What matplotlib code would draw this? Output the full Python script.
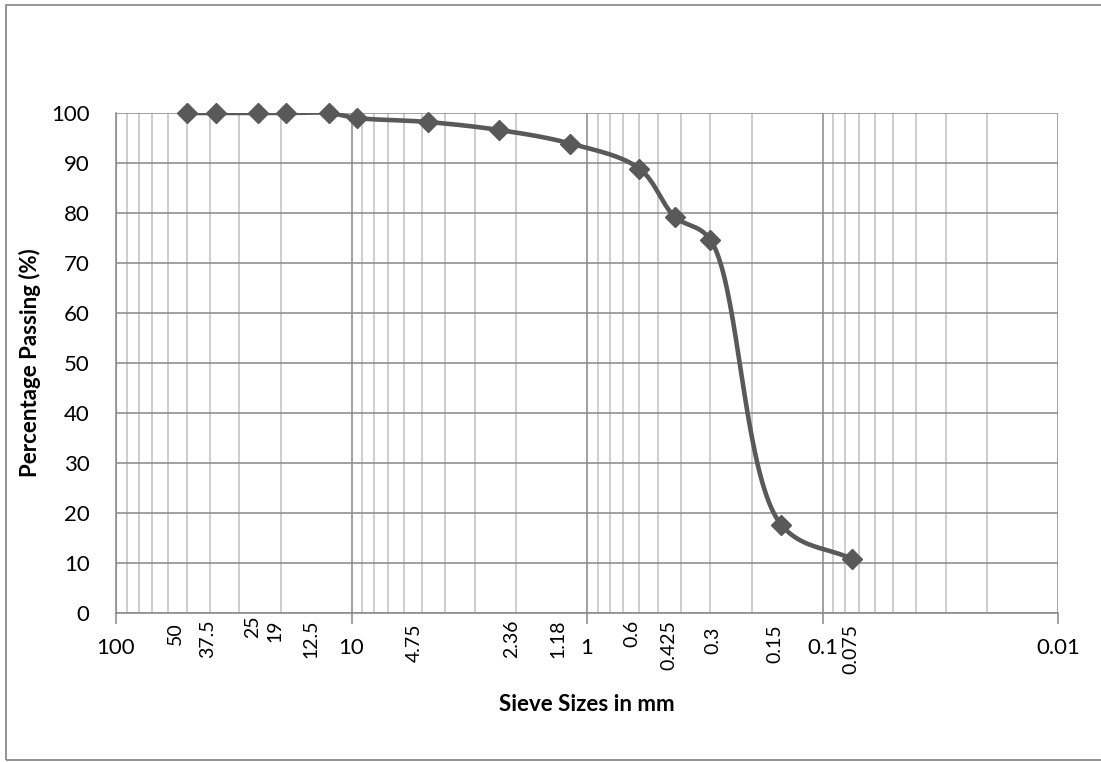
import numpy as np
import matplotlib.pyplot as plt
from matplotlib.patches import Rectangle
from matplotlib.ticker import LogLocator, NullFormatter, FixedLocator

# sieve analysis data
sieve_mm = [50, 37.5, 25, 19, 12.5, 9.5, 4.75, 2.36, 1.18, 0.6, 0.425, 0.3, 0.15, 0.075]
passing = [100, 100, 100, 100, 100, 99.0, 98.2, 96.6, 93.9, 88.9, 79.3, 74.7, 17.7, 10.8]
size_labels = ["50", "37.5", "25", "19", "12.5", "", "4.75", "2.36", "1.18",
               "0.6", "0.425", "0.3", "0.15", "0.075"]
decade_ticks = [100, 10, 1, 0.1, 0.01]
decade_labels = ["100", "10", "1", "0.1", "0.01"]
y_ticks = list(range(0, 101, 10))

# hand placed label offsets (pixels) like the text boxes in the original sheet
label_dx = [-11, -9, -5, -11, -18, 0, -13, 12, -12, -7, -6, 3, -6, -1]
label_top = [9, 6, 2, 6, 6, 0, 11, 6, 7, 7, 7, 14, 11, 11]

LINE = "#595959"
GRID = "#888888"
MINOR = "#c0c0c0"
FONT = ["Lato", "DejaVu Sans"]


def smooth(xs, ys, n=40, alpha=0.5):
    # centripetal catmull-rom in screen-like units (px per decade, px per %)
    pts = np.column_stack([np.log10(xs) * 235.5, np.array(ys) * 5.0])
    p = np.vstack([2 * pts[0] - pts[1], pts, 2 * pts[-1] - pts[-2]])
    out = []
    for i in range(1, len(p) - 2):
        P0, P1, P2, P3 = p[i - 1], p[i], p[i + 1], p[i + 2]
        t0 = 0.0
        t1 = t0 + np.linalg.norm(P1 - P0) ** alpha
        t2 = t1 + np.linalg.norm(P2 - P1) ** alpha
        t3 = t2 + np.linalg.norm(P3 - P2) ** alpha
        t = np.linspace(t1, t2, n)[:, None]
        A1 = (t1 - t) / (t1 - t0) * P0 + (t - t0) / (t1 - t0) * P1
        A2 = (t2 - t) / (t2 - t1) * P1 + (t - t1) / (t2 - t1) * P2
        A3 = (t3 - t) / (t3 - t2) * P2 + (t - t2) / (t3 - t2) * P3
        B1 = (t2 - t) / (t2 - t0) * A1 + (t - t0) / (t2 - t0) * A2
        B2 = (t3 - t) / (t3 - t1) * A2 + (t - t1) / (t3 - t1) * A3
        C = (t2 - t) / (t2 - t1) * B1 + (t - t1) / (t2 - t1) * B2
        out.append(C if i == 1 else C[1:])
    c = np.vstack(out)
    return 10 ** (c[:, 0] / 235.5), c[:, 1] / 5.0


plt.rcParams['font.family'] = FONT

fig = plt.figure(figsize=(11.01, 7.62), dpi=100)
ax = fig.add_axes([116 / 1101, 149 / 762, 942 / 1101, 500 / 762])

ax.set_xscale('log')
ax.set_xlim(100, 0.01)
ax.set_ylim(0, 100)

ax.xaxis.set_major_locator(FixedLocator(decade_ticks))
ax.set_xticklabels(decade_labels)
ax.xaxis.set_minor_locator(LogLocator(base=10, subs=np.arange(2, 10)))
ax.xaxis.set_minor_formatter(NullFormatter())
ax.set_yticks(y_ticks)

ax.grid(True, which='major', axis='both', color=GRID, lw=1.1)
ax.grid(True, which='minor', axis='x', color=MINOR, lw=1.1)
ax.set_axisbelow(True)

for s in ['top', 'right']:
    ax.spines[s].set_visible(False)
for s in ['left', 'bottom']:
    ax.spines[s].set_color(GRID)
    ax.spines[s].set_linewidth(1.1)

ax.tick_params(axis='x', which='major', length=8, width=1.1, color=GRID,
               labelsize=16, pad=10)
ax.tick_params(axis='x', which='minor', length=0)
ax.tick_params(axis='y', length=0, labelsize=16, pad=19)

sx, sy = smooth(sieve_mm, passing)
ax.plot(sx, sy, color=LINE, lw=3.3, solid_capstyle='round', zorder=3)
ax.plot(sieve_mm, passing, ls='none', marker='D', ms=10.5, color=LINE, zorder=4,
        clip_on=False)

for x, lab, dx, dy in zip(sieve_mm, size_labels, label_dx, label_top):
    if not lab:
        continue
    ax.annotate(lab, xy=(x, 0), xycoords=('data', 'axes fraction'),
                xytext=(dx, -dy), textcoords='offset pixels',
                rotation=90, ha='center', va='top', fontsize=14)

ax.set_xlabel('Sieve Sizes in mm', fontsize=16, fontweight='bold', labelpad=26)
ax.set_ylabel('Percentage Passing (%)', fontsize=16, fontweight='bold', labelpad=7)

# chart area border
fig.patches.append(Rectangle((6 / 1101, 2 / 762), 1.2, 755 / 762, transform=fig.transFigure,
                             fill=False, edgecolor='#8c8c8c', lw=1.3))

fig.savefig('out.png', dpi=100)
